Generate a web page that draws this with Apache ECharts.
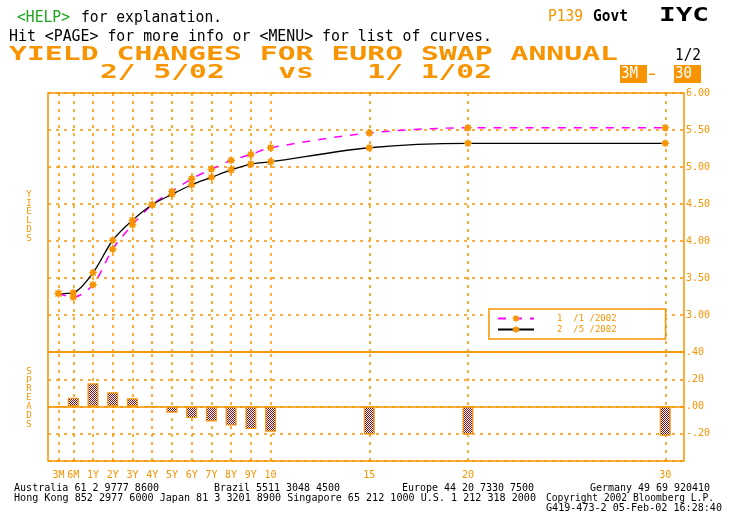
<!DOCTYPE html>
<html><head><meta charset="utf-8">
<script src="https://cdn.jsdelivr.net/npm/echarts@6/dist/echarts.min.js"></script>
<style>html,body{margin:0;padding:0;background:#fff;}#c{width:736px;height:527px;}</style>
</head><body><div id="c"></div>
<script>
// ---- data ----
const tenorLabels = ['3M','6M','1Y','2Y','3Y','4Y','5Y','6Y','7Y','8Y','9Y','10','15','20','30'];
const tenorX = [-0.75, 0, 1, 2, 3, 4, 5, 6, 7, 8, 9, 10, 15, 20, 30];
const curveJan = [3.29, 3.24, 3.41, 3.89, 4.22, 4.49, 4.67, 4.84, 4.97, 5.09, 5.17, 5.26, 5.46, 5.53, 5.53];
const curveFeb = [3.29, 3.30, 3.57, 4.01, 4.28, 4.49, 4.63, 4.76, 4.86, 4.96, 5.04, 5.07, 5.26, 5.32, 5.32];
const spreads  = [0, 0.065, 0.17, 0.105, 0.06, 0, -0.045, -0.085, -0.11, -0.14, -0.165, -0.185, -0.205, -0.205, -0.215];
const seriesNames = ['1  /1 /2002', '2  /5 /2002'];

// ---- styles ----
const ORANGE = '#f79400';
const MONO = '"DejaVu Sans Mono", monospace';
const dotted = {type: [3, 5], color: ORANGE, width: 1.5};

const star = (function () {
  let p = '';
  for (let i = 0; i < 16; i++) {
    const a = i * Math.PI / 8, r = i % 2 ? 0.6 : 1;
    p += (i ? 'L' : 'M') + (r * Math.sin(a)).toFixed(3) + ' ' + (-r * Math.cos(a)).toFixed(3) + ' ';
  }
  return 'path://' + p + 'Z';
})();

const pc = document.createElement('canvas'); pc.width = 2; pc.height = 2;
(function () { const g = pc.getContext('2d'); g.fillStyle = '#fff'; g.fillRect(0, 0, 2, 2); g.fillStyle = '#8b0a1a'; g.fillRect(0, 0, 1, 1); g.fillRect(1, 1, 1, 1); })();

const mctx = document.createElement('canvas').getContext('2d');
function fit(text, x, cy, w, font, fill) {
  mctx.font = font;
  const mw = mctx.measureText(text).width;
  return {type: 'text', x: x, y: cy, scaleX: w / mw, silent: true,
    style: {text: text, font: font, fill: fill, verticalAlign: 'middle', align: 'left'}};
}
function labelFor(v) {
  const i = tenorX.findIndex(t => Math.abs(t - v) < 1e-6);
  return i >= 0 ? tenorLabels[i] : '';
}
function spreadFmt(v) {
  if (Math.abs(v + 0.4) < 1e-6) return '';
  const s = Math.abs(v).toFixed(2).replace(/^0/, '');
  return (v < -1e-6 ? '-' : '') + s;
}

const F15 = '15px ' + MONO, F15B = 'bold 15px ' + MONO, FBIG = 'bold 19px ' + MONO, F10 = '10px ' + MONO;

const graphics = [
  fit('<HELP>', 17, 18, 53, F15, '#1aa51a'),
  fit('for explanation.', 81, 18, 141, F15, '#000'),
  fit('Hit <PAGE> for more info or <MENU> for list of curves.', 9, 37, 483, F15, '#000'),
  fit('YIELD CHANGES FOR EURO SWAP ANNUAL', 9, 55.5, 609, FBIG, ORANGE),
  fit('2/ 5/02   vs   1/ 1/02', 100, 73.5, 392, FBIG, ORANGE),
  fit('P139', 548, 17, 35, F15, ORANGE),
  fit('Govt', 593, 17, 35, F15B, '#000'),
  fit('IYC', 659, 16.5, 50, FBIG, '#000'),
  fit('1/2', 675, 56, 26, F15, '#000'),
  {type: 'rect', shape: {x: 620, y: 65, width: 27, height: 18}, style: {fill: ORANGE}, silent: true},
  fit('3M', 621, 74.5, 17, F15, '#fff'),
  {type: 'rect', shape: {x: 649, y: 73.5, width: 6, height: 1.5}, style: {fill: ORANGE}, silent: true},
  {type: 'rect', shape: {x: 674, y: 65, width: 27, height: 18}, style: {fill: ORANGE}, silent: true},
  fit('30', 675, 74.5, 17, F15, '#fff'),
  {type: 'text', x: 29, y: 190, silent: true, style: {text: 'Y\nI\nE\nL\nD\nS', font: '9px ' + MONO, lineHeight: 8.8, fill: ORANGE, align: 'center', verticalAlign: 'top'}},
  {type: 'text', x: 29, y: 367, silent: true, style: {text: 'S\nP\nR\nE\nA\nD\nS', font: '9px ' + MONO, lineHeight: 8.8, fill: ORANGE, align: 'center', verticalAlign: 'top'}},
  fit('Australia 61 2 9777 8600', 14, 488, 145, F10, '#000'),
  fit('Brazil 5511 3048 4500', 214, 488, 126, F10, '#000'),
  fit('Europe 44 20 7330 7500', 402, 488, 132, F10, '#000'),
  fit('Germany 49 69 920410', 590, 488, 120, F10, '#000'),
  fit('Hong Kong 852 2977 6000 Japan 81 3 3201 8900 Singapore 65 212 1000 U.S. 1 212 318 2000', 14, 498, 522, F10, '#000'),
  fit('Copyright 2002 Bloomberg L.P.', 546, 498, 168, F10, '#000'),
  fit('G419-473-2 05-Feb-02 16:28:40', 546, 508, 176, F10, '#000')
];

const chart = echarts.init(document.getElementById('c'), null, {renderer: 'canvas'});
const axisLbl = {color: ORANGE, fontFamily: MONO, fontSize: 10};

chart.setOption({
  animation: false,
  backgroundColor: '#fff',
  grid: [
    {left: 48, right: 52, top: 93, height: 259, show: true, borderColor: ORANGE, borderWidth: 1.5, backgroundColor: 'transparent'},
    {left: 48, right: 52, top: 352, height: 109, show: true, borderColor: ORANGE, borderWidth: 1.5, backgroundColor: 'transparent'}
  ],
  xAxis: [
    {gridIndex: 0, type: 'value', min: -1.28, max: 30.95, axisLine: {show: false}, axisTick: {show: false}, axisLabel: {show: false}, splitLine: {show: false}},
    {gridIndex: 1, type: 'value', min: -1.28, max: 30.95, axisLine: {show: false}, axisTick: {show: false}, splitLine: {show: false},
      axisLabel: Object.assign({customValues: tenorX, formatter: labelFor, margin: 9}, axisLbl)}
  ],
  yAxis: [
    {gridIndex: 0, type: 'value', position: 'right', min: 2.5, max: 6, interval: 0.5, axisLine: {show: false}, axisTick: {show: false},
      axisLabel: Object.assign({margin: 2, formatter: v => Math.abs(v - 2.5) < 1e-6 ? '' : v.toFixed(2)}, axisLbl), splitLine: {lineStyle: dotted}},
    {gridIndex: 1, type: 'value', position: 'right', min: -0.4, max: 0.4, interval: 0.2, axisLine: {show: false}, axisTick: {show: false},
      axisLabel: Object.assign({margin: 2, formatter: spreadFmt}, axisLbl), splitLine: {lineStyle: dotted}}
  ],
  legend: {
    data: seriesNames, orient: 'vertical', left: 489, top: 309, padding: [5, 49, 5, 8],
    itemWidth: 36, itemHeight: 10, itemGap: 2, borderColor: ORANGE, borderWidth: 1.5, backgroundColor: '#fff',
    selectedMode: false, textStyle: {color: ORANGE, fontFamily: MONO, fontSize: 9, padding: [0, 0, 0, 18]}
  },
  series: [
    {type: 'line', xAxisIndex: 0, yAxisIndex: 0, data: [], silent: true,
      markLine: {z: 1, silent: true, symbol: 'none', label: {show: false}, lineStyle: dotted, data: tenorX.map(v => ({xAxis: v}))}},
    {type: 'line', xAxisIndex: 1, yAxisIndex: 1, data: [], silent: true,
      markLine: {z: 1, silent: true, symbol: 'none', label: {show: false}, lineStyle: dotted,
        data: tenorX.map(v => ({xAxis: v})).concat([{yAxis: 0, lineStyle: {type: 'solid', color: ORANGE, width: 1.5}}])}},
    {name: seriesNames[0], type: 'line', xAxisIndex: 0, yAxisIndex: 0, z: 3,
      data: tenorX.map((x, i) => [x, curveJan[i]]), smooth: 0.3, symbol: star, symbolSize: 9, showSymbol: true,
      itemStyle: {color: ORANGE}, lineStyle: {color: '#ff00ff', width: 1.5, type: [8, 8]}},
    {name: seriesNames[1], type: 'line', xAxisIndex: 0, yAxisIndex: 0, z: 3,
      data: tenorX.map((x, i) => [x, curveFeb[i]]), smooth: 0.3, symbol: star, symbolSize: 9, showSymbol: true,
      itemStyle: {color: ORANGE}, lineStyle: {color: '#000', width: 1.3}},
    {type: 'bar', xAxisIndex: 1, yAxisIndex: 1, z: 3, barWidth: 11,
      data: tenorX.map((x, i) => [x, spreads[i]]),
      itemStyle: {color: {image: pc, repeat: 'repeat'}, borderColor: ORANGE, borderWidth: 1.2}}
  ],
  graphic: graphics
});
</script></body></html>
